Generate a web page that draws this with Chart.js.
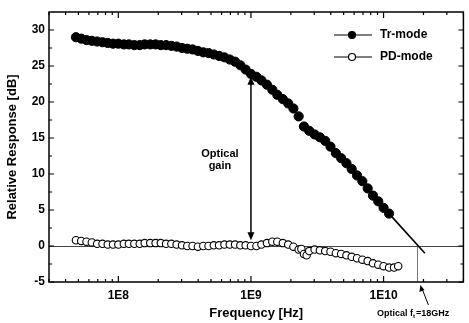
<!DOCTYPE html>
<html>
<head>
<meta charset="utf-8">
<script src="https://cdn.jsdelivr.net/npm/chart.js@4"></script>
<style>
  html, body { margin: 0; padding: 0; background: #fff; }
  #wrap { width: 469px; height: 323px; }
</style>
</head>
<body>
<div id="wrap"><canvas id="chart" width="469" height="323"></canvas></div>
<script>
// Tr-mode (filled circles), frequency in Hz, response in dB
const trFreq = [4.79e7, 5.25e7, 5.75e7, 6.31e7, 6.92e7, 7.59e7, 8.32e7, 9.12e7, 1.0e8, 1.10e8,
    1.20e8, 1.32e8, 1.45e8, 1.58e8, 1.74e8, 1.91e8, 2.09e8, 2.29e8, 2.51e8, 2.75e8,
    3.02e8, 3.31e8, 3.63e8, 3.98e8, 4.37e8, 4.79e8, 5.25e8, 5.75e8, 6.31e8, 6.92e8,
    7.59e8, 8.32e8, 9.12e8, 1.0e9, 1.10e9, 1.20e9, 1.32e9, 1.45e9, 1.58e9, 1.74e9,
    1.91e9, 2.09e9, 2.29e9, 2.51e9, 2.75e9, 3.02e9, 3.31e9, 3.63e9, 3.98e9, 4.37e9,
    4.79e9, 5.25e9, 5.75e9, 6.31e9, 6.92e9, 7.59e9, 8.32e9, 9.12e9, 1.0e10, 1.10e10];
const trDb = [29.0, 28.8, 28.6, 28.5, 28.4, 28.3, 28.2, 28.1, 28.1, 28.0,
    28.0, 27.9, 27.9, 28.0, 28.0, 28.0, 27.9, 27.9, 27.8, 27.7,
    27.5, 27.4, 27.3, 27.1, 26.9, 26.8, 26.6, 26.4, 26.2, 25.9,
    25.6, 25.1, 24.5, 23.9, 23.5, 23.0, 22.4, 21.7, 21.0, 20.4,
    19.8, 19.1, 18.0, 16.6, 16.0, 15.5, 15.1, 14.6, 13.8, 12.9,
    12.2, 11.5, 10.7, 9.8, 9.0, 8.0, 7.0, 6.2, 5.3, 4.5];

// PD-mode (open circles)
const pdFreq = [4.79e7, 5.25e7, 5.75e7, 6.31e7, 6.92e7, 7.59e7, 8.32e7, 9.12e7, 1.0e8, 1.10e8,
    1.20e8, 1.32e8, 1.45e8, 1.58e8, 1.74e8, 1.91e8, 2.09e8, 2.29e8, 2.51e8, 2.75e8,
    3.02e8, 3.31e8, 3.63e8, 3.98e8, 4.37e8, 4.79e8, 5.25e8, 5.75e8, 6.31e8, 6.92e8,
    7.59e8, 8.32e8, 9.12e8, 1.0e9, 1.10e9, 1.20e9, 1.32e9, 1.45e9, 1.58e9, 1.74e9,
    1.91e9, 2.09e9, 2.29e9, 2.40e9, 2.51e9, 2.63e9, 2.75e9, 3.02e9, 3.31e9, 3.63e9,
    3.98e9, 4.37e9, 4.79e9, 5.25e9, 5.75e9, 6.31e9, 6.92e9, 7.59e9, 8.32e9, 9.12e9,
    1.0e10, 1.10e10, 1.20e10, 1.29e10];
const pdDb = [0.8, 0.7, 0.6, 0.5, 0.3, 0.3, 0.2, 0.2, 0.2, 0.3,
    0.3, 0.3, 0.3, 0.4, 0.4, 0.4, 0.4, 0.3, 0.3, 0.2,
    0.1, 0.0, 0.0, -0.1, 0.0, 0.0, 0.1, 0.1, 0.2, 0.2,
    0.2, 0.1, 0.1, 0.0, 0.0, 0.2, 0.4, 0.6, 0.6, 0.4,
    0.2, -0.1, -0.5, -0.4, -1.1, -1.3, -0.7, -0.5, -0.6, -0.7,
    -0.8, -1.0, -1.1, -1.3, -1.5, -1.7, -1.9, -2.1, -2.4, -2.6,
    -2.8, -3.0, -3.0, -2.8];

// straight extrapolation of Tr-mode down through 0 dB
const fitFreq = [1.10e10, 2.05e10];
const fitDb = [4.5, -1.0];

const ftFreq = 1.8e10;          // optical fT marker
const gainFreq = 1.0e9;         // "Optical gain" arrow position
const gainFrom = 0.8, gainTo = 23.5;

const xTickValues = [1e8, 1e9, 1e10];
const xTickLabels = ['1E8', '1E9', '1E10'];
const yTickValues = [-5, 0, 5, 10, 15, 20, 25, 30];
const yTickLabels = ['-5', '0', '5', '10', '15', '20', '25', '30'];

const FONT = '"Liberation Sans", Arial, sans-serif';

function toPoints(xs, ys) {
    return xs.map((x, i) => ({ x: x, y: ys[i] }));
}

function arrowHead(ctx, x, y, dir) {
    ctx.beginPath();
    ctx.moveTo(x, y);
    ctx.lineTo(x - 3.5, y + dir * 8);
    ctx.lineTo(x + 3.5, y + dir * 8);
    ctx.closePath();
    ctx.fill();
}

const decorPlugin = {
    id: 'decor',
    beforeDatasetsDraw(chart) {
        const { ctx, chartArea: a, scales: { x, y } } = chart;
        ctx.save();
        // 0 dB reference line
        ctx.strokeStyle = '#444';
        ctx.lineWidth = 1;
        const y0 = Math.round(y.getPixelForValue(0)) + 0.5;
        ctx.beginPath();
        ctx.moveTo(a.left, y0);
        ctx.lineTo(a.right, y0);
        ctx.stroke();
        // fT drop line
        ctx.strokeStyle = '#777';
        const xf = Math.round(x.getPixelForValue(ftFreq)) + 0.5;
        ctx.beginPath();
        ctx.moveTo(xf, y0);
        ctx.lineTo(xf, a.bottom);
        ctx.stroke();
        ctx.restore();
    },
    afterDraw(chart) {
        const { ctx, chartArea: a, scales: { x, y } } = chart;
        ctx.save();
        ctx.strokeStyle = '#000';
        ctx.fillStyle = '#000';

        // frame
        ctx.lineWidth = 1.5;
        ctx.strokeRect(a.left, a.top, a.right - a.left, a.bottom - a.top);

        // inward ticks, x (bottom + top)
        ctx.lineWidth = 1.2;
        for (let d = 1e7; d <= 1e10; d *= 10) {
            for (let m = 1; m <= 9; m++) {
                const v = d * m;
                if (v < x.min || v > x.max) continue;
                const px = x.getPixelForValue(v);
                const len = m === 1 ? 6 : 3;
                ctx.beginPath();
                ctx.moveTo(px, a.bottom);
                ctx.lineTo(px, a.bottom - len);
                ctx.moveTo(px, a.top);
                ctx.lineTo(px, a.top + len);
                ctx.stroke();
            }
        }
        // inward ticks, y (left + right)
        for (let v = -5; v <= 30; v += 2.5) {
            const py = y.getPixelForValue(v);
            const len = v % 5 === 0 ? 5 : 3;
            ctx.beginPath();
            ctx.moveTo(a.left, py);
            ctx.lineTo(a.left + len, py);
            ctx.moveTo(a.right, py);
            ctx.lineTo(a.right - len, py);
            ctx.stroke();
        }

        // optical gain double arrow
        const gx = x.getPixelForValue(gainFreq);
        const gy1 = y.getPixelForValue(gainFrom);
        const gy2 = y.getPixelForValue(gainTo);
        ctx.lineWidth = 1.5;
        ctx.beginPath();
        ctx.moveTo(gx, gy1 - 4);
        ctx.lineTo(gx, gy2 + 4);
        ctx.stroke();
        arrowHead(ctx, gx, gy2, 1);
        arrowHead(ctx, gx, gy1, -1);

        ctx.font = 'bold 11px ' + FONT;
        ctx.textAlign = 'center';
        ctx.textBaseline = 'middle';
        ctx.fillText('Optical', gx - 31, y.getPixelForValue(12.8));
        ctx.fillText('gain', gx - 31, y.getPixelForValue(11.1));

        // fT label with arrow below the axis
        const xf = x.getPixelForValue(ftFreq);
        ctx.lineWidth = 1;
        ctx.beginPath();
        ctx.moveTo(xf + 4, a.bottom + 5);
        ctx.lineTo(xf + 11, a.bottom + 23);
        ctx.stroke();
        ctx.beginPath();
        ctx.moveTo(xf + 3, a.bottom + 3);
        ctx.lineTo(xf + 2, a.bottom + 10);
        ctx.lineTo(xf + 7, a.bottom + 8);
        ctx.closePath();
        ctx.fill();

        ctx.textAlign = 'left';
        ctx.textBaseline = 'alphabetic';
        ctx.font = 'bold 9px ' + FONT;
        let tx = 377;
        const ty = 316;
        ctx.fillText('Optical f', tx, ty);
        tx += ctx.measureText('Optical f').width;
        ctx.font = 'bold 6px ' + FONT;
        ctx.fillText('t', tx, ty + 2);
        tx += ctx.measureText('t').width + 1;
        ctx.font = 'bold 9px ' + FONT;
        ctx.fillText('=18GHz', tx, ty);

        // legend
        const items = [
            { label: 'Tr-mode', fill: '#000', ly: 35 },
            { label: 'PD-mode', fill: '#fff', ly: 57 }
        ];
        items.forEach(it => {
            ctx.lineWidth = 1;
            ctx.beginPath();
            ctx.moveTo(334, it.ly);
            ctx.lineTo(372, it.ly);
            ctx.stroke();
            ctx.beginPath();
            ctx.arc(352, it.ly, 3.5, 0, Math.PI * 2);
            ctx.fillStyle = it.fill;
            ctx.fill();
            ctx.lineWidth = 1.2;
            ctx.stroke();
            ctx.fillStyle = '#000';
            ctx.font = 'bold 12px ' + FONT;
            ctx.textBaseline = 'middle';
            ctx.fillText(it.label, 380, it.ly);
        });
        ctx.restore();
    }
};

Chart.defaults.color = '#000';
Chart.defaults.font.family = FONT;

new Chart(document.getElementById('chart').getContext('2d'), {
    type: 'scatter',
    data: {
        datasets: [
            {
                label: 'Tr-mode',
                data: toPoints(trFreq, trDb),
                pointRadius: 4.6,
                pointBackgroundColor: '#000',
                pointBorderColor: '#000',
                pointBorderWidth: 1,
                showLine: false
            },
            {
                label: 'PD-mode',
                data: toPoints(pdFreq, pdDb),
                pointRadius: 3.7,
                pointBackgroundColor: '#fff',
                pointBorderColor: '#000',
                pointBorderWidth: 1.1,
                showLine: false
            },
            {
                label: 'fit',
                data: toPoints(fitFreq, fitDb),
                showLine: true,
                borderColor: '#000',
                borderWidth: 1.6,
                pointRadius: 0
            }
        ]
    },
    options: {
        responsive: false,
        animation: false,
        layout: { padding: { top: 12, right: 1, left: 0, bottom: 0 } },
        plugins: {
            legend: { display: false },
            tooltip: { enabled: false }
        },
        scales: {
            x: {
                type: 'logarithmic',
                min: 3e7,
                max: 4e10,
                grid: { display: false, drawTicks: false },
                border: { display: false },
                afterBuildTicks: s => { s.ticks = xTickValues.map(v => ({ value: v })); },
                afterFit: s => { s.height = 41; },
                ticks: {
                    autoSkip: false,
                    maxRotation: 0,
                    padding: 6,
                    font: { size: 12, weight: 'bold' },
                    callback: (v, i) => xTickLabels[i]
                },
                title: {
                    display: true,
                    text: 'Frequency [Hz]',
                    font: { size: 13, weight: 'bold' },
                    padding: { top: 0, bottom: 2 }
                }
            },
            y: {
                min: -5,
                max: 32.5,
                grid: { display: false, drawTicks: false },
                border: { display: false },
                afterBuildTicks: s => { s.ticks = yTickValues.map(v => ({ value: v })); },
                afterFit: s => { s.width = 49; },
                ticks: {
                    padding: 4,
                    font: { size: 12, weight: 'bold' },
                    callback: (v, i) => yTickLabels[i]
                },
                title: {
                    display: true,
                    text: 'Relative Response [dB]',
                    font: { size: 13, weight: 'bold' },
                    padding: { top: 5, bottom: 0 }
                }
            }
        }
    },
    plugins: [decorPlugin]
});
</script>
</body>
</html>
